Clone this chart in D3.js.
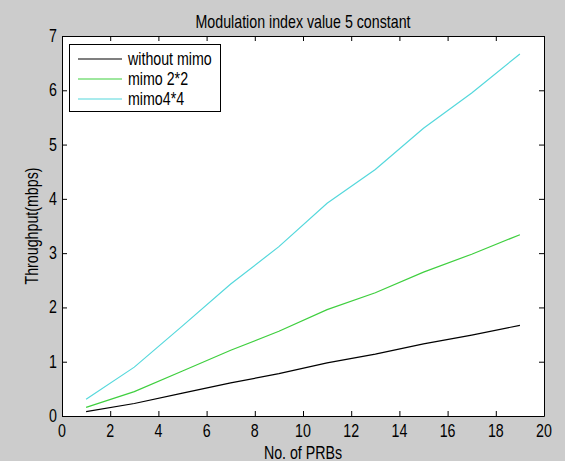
<!DOCTYPE html>
<html>
<head>
<meta charset="utf-8">
<script src="https://cdn.jsdelivr.net/npm/d3@7"></script>
<style>
  html, body { margin: 0; padding: 0; background: #cccccc; }
  svg text { font-family: "Liberation Sans", Arial, sans-serif; fill: #000; }
</style>
</head>
<body>
<svg id="chart" width="565" height="461"></svg>
<script>
const prbs = [1, 3, 5, 7, 9, 11, 13, 15, 17, 19];
const withoutMimo = [0.08, 0.23, 0.42, 0.61, 0.78, 0.98, 1.14, 1.33, 1.49, 1.67];
const mimo2x2 = [0.16, 0.45, 0.83, 1.21, 1.56, 1.96, 2.27, 2.65, 2.98, 3.34];
const mimo4x4 = [0.31, 0.90, 1.66, 2.43, 3.12, 3.92, 4.54, 5.30, 5.95, 6.67];
const seriesNames = ['without mimo', 'mimo 2*2', 'mimo4*4'];
const seriesColors = ['#000000', '#3fcf3f', '#55d8dc'];
const xTicks = [0, 2, 4, 6, 8, 10, 12, 14, 16, 18, 20];
const yTicks = [0, 1, 2, 3, 4, 5, 6, 7];

const W = 565, H = 461;
const m = { left: 62, right: 21, top: 36, bottom: 45 };
const FS = 18;
const SX = 0.79; // text in the picture looks tall and narrow

const svg = d3.select('#chart');
svg.append('rect').attr('width', W).attr('height', H).attr('fill', '#cccccc');

const x = d3.scaleLinear().domain([0, 20]).range([m.left, W - m.right]);
const y = d3.scaleLinear().domain([0, 7]).range([H - m.bottom, m.top]);

// narrow text helper
function label(g, tx, ty, str, anchor, rot) {
  return g.append('text')
    .attr('transform', `translate(${tx},${ty})${rot ? ` rotate(${rot})` : ''} scale(${SX},1)`)
    .attr('text-anchor', anchor)
    .style('font-size', `${FS}px`)
    .text(str);
}

svg.append('rect')
  .attr('x', x(0)).attr('y', y(7))
  .attr('width', x(20) - x(0)).attr('height', y(0) - y(7))
  .attr('fill', '#fff');

const line = d3.line().x((d) => x(d[0])).y((d) => y(d[1]));
const allSeries = [withoutMimo, mimo2x2, mimo4x4];
allSeries.forEach((vals, i) => {
  svg.append('path')
    .datum(prbs.map((p, j) => [p, vals[j]]))
    .attr('fill', 'none')
    .attr('stroke', seriesColors[i])
    .attr('stroke-width', 1.2)
    .attr('d', line);
});

// axes: ticks inside on all four sides, like matlab box on
const tl = 5;
const axB = svg.append('g').attr('transform', `translate(0,${y(0)})`)
  .call(d3.axisBottom(x).tickValues(xTicks).tickSizeInner(-tl).tickSizeOuter(0).tickFormat(''));
const axT = svg.append('g').attr('transform', `translate(0,${y(7)})`)
  .call(d3.axisTop(x).tickValues(xTicks).tickSizeInner(-tl).tickSizeOuter(0).tickFormat(''));
const axL = svg.append('g').attr('transform', `translate(${x(0)},0)`)
  .call(d3.axisLeft(y).tickValues(yTicks).tickSizeInner(-tl).tickSizeOuter(0).tickFormat(''));
const axR = svg.append('g').attr('transform', `translate(${x(20)},0)`)
  .call(d3.axisRight(y).tickValues(yTicks).tickSizeInner(-tl).tickSizeOuter(0).tickFormat(''));
[axB, axT, axL, axR].forEach((a) => {
  a.selectAll('path').attr('stroke', '#000').attr('stroke-width', 1);
  a.selectAll('line').attr('stroke', '#000').attr('stroke-width', 1);
});

const labels = svg.append('g');
xTicks.forEach((t) => label(labels, x(t), y(0) + 21, String(t)));
labels.selectAll('text').attr('text-anchor', 'middle');
yTicks.forEach((t) => label(labels, x(0) - 5, y(t) + 6, String(t), 'end'));

label(svg, (x(0) + x(20)) / 2, 28, 'Modulation index value 5 constant', 'middle');
label(svg, (x(0) + x(20)) / 2, 459, 'No. of PRBs', 'middle');
label(svg, 38, (y(0) + y(7)) / 2, 'Throughput(mbps)', 'middle', -90);

// legend
const lg = svg.append('g');
lg.append('rect').attr('x', 69.5).attr('y', 44.5).attr('width', 151).attr('height', 67)
  .attr('fill', '#fff').attr('stroke', '#000').attr('stroke-width', 1);
seriesNames.forEach((name, i) => {
  const ly = 59 + i * 20;
  lg.append('line').attr('x1', 78).attr('x2', 122).attr('y1', ly).attr('y2', ly)
    .attr('stroke', seriesColors[i]).attr('stroke-width', 1.2);
  label(lg, 128, ly + 6, name, 'start');
});
</script>
</body>
</html>
